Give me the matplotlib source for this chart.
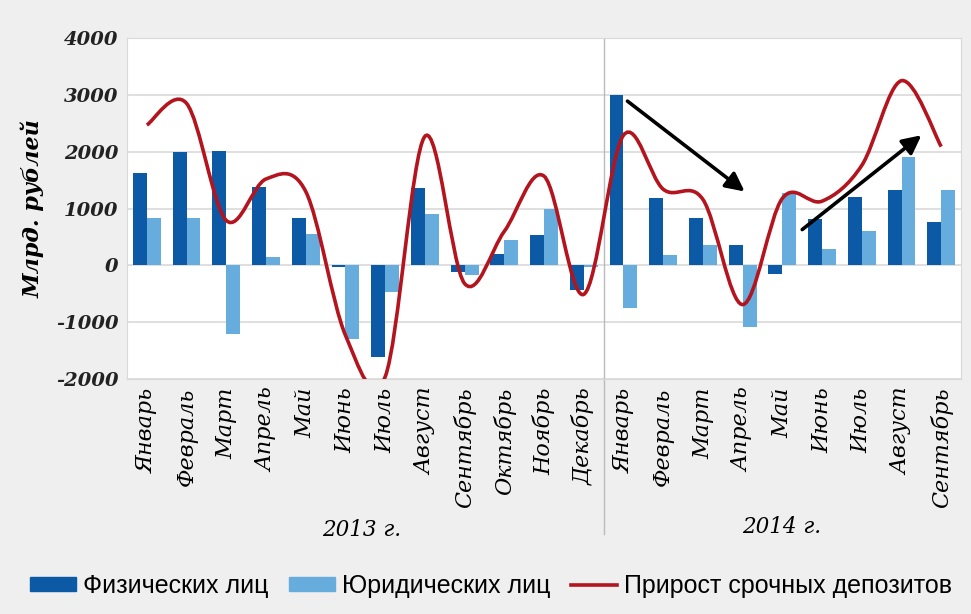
import numpy as np
import matplotlib.pyplot as plt
from matplotlib.path import Path
from matplotlib.patches import PathPatch, Patch
from matplotlib.lines import Line2D

months = ['Январь', 'Февраль', 'Март', 'Апрель', 'Май', 'Июнь', 'Июль', 'Август',
          'Сентябрь', 'Октябрь', 'Ноябрь', 'Декабрь',
          'Январь', 'Февраль', 'Март', 'Апрель', 'Май', 'Июнь', 'Июль', 'Август', 'Сентябрь']
years = ['2013 г.', '2014 г.']

fiz = [1620, 2000, 2020, 1380, 825, -30, -1620, 1365, -120, 205, 530, -440,
       3000, 1180, 840, 355, -150, 820, 1195, 1335, 765]
yur = [835, 825, -1205, 147, 560, -1290, -470, 910, -175, 440, 1000, -20,
       -750, 175, 365, -1090, 1265, 295, 600, 1910, 1335]
prirost = [2470, 2850, 790, 1520, 1300, -1230, -1960, 2270, -320, 600, 1570, -510,
           2290, 1340, 1160, -690, 1180, 1130, 1760, 3250, 2090]

# arrows: (x0, y0, x1, y1) in category/value units
arrows = [(12.1, 2890, 15.05, 1300), (16.5, 630, 19.5, 2290)]

c_dark = '#0c5aa6'
c_light = '#66acdc'
c_red = '#b3141d'
bg = '#efefef'

fig = plt.figure(figsize=(9.71, 6.14), dpi=100, facecolor=bg)
ax = fig.add_axes([0.1308, 0.3827, 0.859, 0.5553])
ax.set_facecolor('white')

x = np.arange(len(months))
w = 0.35
ax.bar(x - w / 2, fiz, w, color=c_dark, zorder=2)
ax.bar(x + w / 2, yur, w, color=c_light, zorder=2)

# smooth line like excel (bezier through points)
pts = np.column_stack([x, prirost]).astype(float)
verts = [pts[0]]
codes = [Path.MOVETO]
n = len(pts)
for i in range(n - 1):
    p0 = pts[i - 1] if i > 0 else pts[i]
    p1 = pts[i]
    p2 = pts[i + 1]
    p3 = pts[i + 2] if i + 2 < n else pts[i + 1]
    verts += [p1 + (p2 - p0) / 6, p2 - (p3 - p1) / 6, p2]
    codes += [Path.CURVE4] * 3
ax.add_patch(PathPatch(Path(verts, codes), fill=False, edgecolor=c_red, lw=2.6, zorder=3))

for x0, y0, x1, y1 in arrows:
    ax.annotate('', xy=(x1, y1), xytext=(x0, y0),
                arrowprops=dict(arrowstyle='-|>', color='black', lw=2.6, mutation_scale=28,
                                shrinkA=0, shrinkB=0), zorder=4)

ax.set_xlim(-0.5, len(months) - 0.5)
ax.set_ylim(-2000, 4000)
ax.set_yticks(range(-2000, 4001, 1000))
ax.yaxis.grid(True, color='#d9d9d9', lw=1.2, zorder=0)
ax.set_axisbelow(True)
for s in ax.spines.values():
    s.set_color('#d9d9d9')

serif = 'DejaVu Serif'
ax.set_xticks(x)
ax.set_xticklabels(months, rotation=90, fontsize=16, family=serif, style='italic')
ax.set_yticklabels([str(v) for v in range(-2000, 4001, 1000)], fontsize=14,
                   family=serif, style='italic', fontweight='bold', color='#222222')
ax.tick_params(length=0, pad=6)
ax.set_ylabel('Млрд. рублей', fontsize=16, family=serif, style='italic', fontweight='bold', labelpad=8)

# separator between years
ax.axvline(11.5, color='#bbbbbb', lw=1, zorder=1)
ax.plot([11.5, 11.5], [-2000, -4730], color='#bbbbbb', lw=1, clip_on=False)

fig.text(362 / 971, 1 - 530 / 614, years[0], fontsize=15.5, family=serif, style='italic',
         ha='center', va='center')
fig.text(782 / 971, 1 - 527 / 614, years[1], fontsize=15.5, family=serif, style='italic',
         ha='center', va='center')

handles = [Patch(color=c_dark), Patch(color=c_light), Line2D([], [], color=c_red, lw=2.6)]
labels = ['Физических лиц', 'Юридических лиц', 'Прирост срочных депозитов']
fig.legend(handles, labels, loc='center', bbox_to_anchor=(491 / 971, 1 - 586 / 614), ncol=3,
           frameon=False, prop={'family': 'Liberation Sans', 'size': 18},
           handlelength=1.85, handleheight=0.5, handletextpad=0.28, columnspacing=0.8)

fig.savefig('out.png', dpi=100, facecolor=bg)
